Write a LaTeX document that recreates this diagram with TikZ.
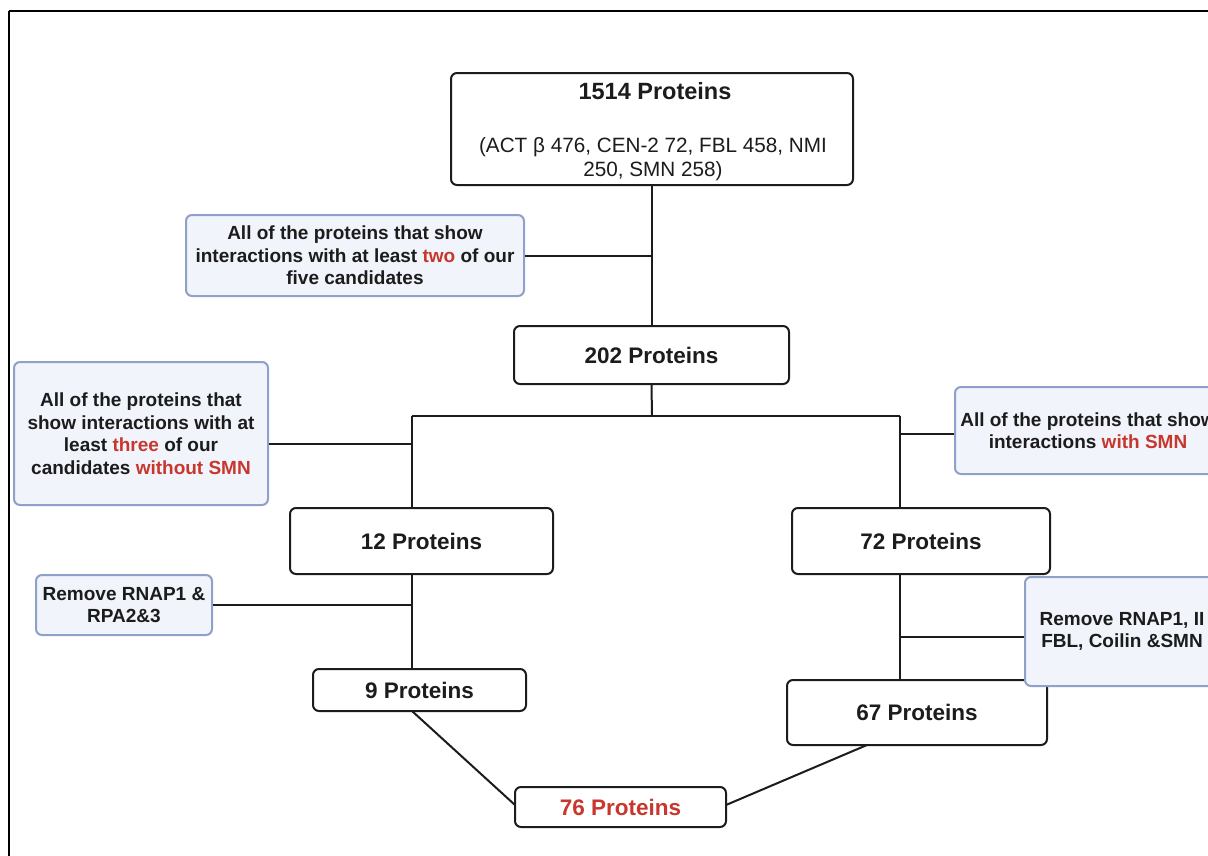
\documentclass[tikz,border=0pt]{standalone}
\usepackage{fontspec}
\setmainfont{Liberation Sans}
\usetikzlibrary{calc}
\definecolor{ink}{HTML}{1C1C1C}
\definecolor{hl}{HTML}{C8372D}
\definecolor{cfill}{HTML}{F1F4FA}
\definecolor{cedge}{HTML}{8FA1C9}
\tikzset{
  box/.style={draw=ink, line width=2pt, rounded corners=6pt, fill=white, inner sep=0pt, text=ink, font=\bfseries\fontsize{22.5}{26}\selectfont},
  callout/.style={draw=cedge, line width=2pt, rounded corners=6pt, fill=cfill, inner sep=0pt, text=ink, align=center, font=\bfseries\fontsize{19}{22.5}\selectfont},
  wire/.style={draw=ink, line width=2pt},
  frame/.style={draw=black, line width=2pt}
}
\newcommand{\hi}[1]{\textcolor{hl}{#1}}
\begin{document}
\begin{tikzpicture}[x=1pt,y=-1pt]
\useasboundingbox (0,0) rectangle (1208,855);
\clip (0,0) rectangle (1208,855);
\fill[white] (0,0) rectangle (1208,855);
\draw[frame] (8.5,10.5) -- (1240,10.5);
\draw[frame] (8.5,10.5) -- (8.5,900);
% nodes
\node[box, minimum width=402pt, minimum height=112pt] (top) at (652,129) {};
\node[text=ink, font=\bfseries\fontsize{23.5}{27}\selectfont] (toptitle) at (655,91) {1514 Proteins};
\node[text=ink, align=center, font=\fontsize{20.7}{24}\selectfont] (topsub) at (653,159) {(ACT β 476, CEN-2 72, FBL 458, NMI\\250, SMN 258)};
\node[callout, minimum width=338pt, minimum height=81pt] (c1) at (355,255.5) {All of the proteins that show\\interactions with at least \hi{two} of our\\five candidates};
\node[box, minimum width=275pt, minimum height=58pt] (p202) at (651.5,355) {202 Proteins};
\coordinate (jL) at (412,416);
\coordinate (jR) at (900,416);
\coordinate (jM) at (652,416);
\node[callout, minimum width=254pt, minimum height=143pt] (c2) at (141,433.5) {All of the proteins that\\show interactions with at\\least \hi{three} of our\\candidates \hi{without SMN}};
\node[callout, minimum width=266pt, minimum height=87pt] (c3) at (1088,430.5) {All of the proteins that show\\interactions \hi{with SMN}};
\node[box, minimum width=263pt, minimum height=66pt] (p12) at (421.5,541) {12 Proteins};
\node[box, minimum width=258pt, minimum height=66pt] (p72) at (921,541) {72 Proteins};
\node[callout, minimum width=176pt, minimum height=60pt] (c4) at (124,605) {Remove RNAP1 \&\\RPA2\&3};
\node[box, minimum width=213pt, minimum height=42pt] (p9) at (419.5,690) {9 Proteins};
\node[box, minimum width=260pt, minimum height=65pt] (p67) at (917,712.5) {67 Proteins};
\node[box, minimum width=211pt, minimum height=40pt, text=hl] (p76) at (620.5,807) {76 Proteins};
% connectors
\draw[wire] (top.south) -- (top.south |- p202.north);
\draw[wire] (c1.east) -- (c1.east -| top.south);
\draw[wire] (p202.south) -- (jM);
\draw[wire] (jL) -- (jR);
\draw[wire] (jL) -- (jL |- p12.north);
\draw[wire] (jR) -- (jR |- p72.north);
\draw[wire] (c2.east |- 0,444) -- (jL |- 0,444);
\draw[wire] (c3.west |- 0,434) -- (jR |- 0,434);
\draw[wire] (jL |- p12.south) -- (jL |- p9.north);
\draw[wire] (c4.east) -- (jL |- c4.east);
\draw[wire] (jR |- p72.south) -- (jR |- p67.north);
\coordinate (l9) at (412,711);
\coordinate (l76a) at (515,805);
\coordinate (l67) at (867,745);
\coordinate (l76b) at (726,805);
\draw[wire] (l9) -- (l76a);
\draw[wire] (l67) -- (l76b);
\node[callout, minimum width=194pt, minimum height=109pt] (c5) at (1122,631.5) {Remove RNAP1, II\\FBL, Coilin \&SMN};
\draw[wire] (jR |- 0,637) -- (c5.west |- 0,637);
\end{tikzpicture}
\end{document}
